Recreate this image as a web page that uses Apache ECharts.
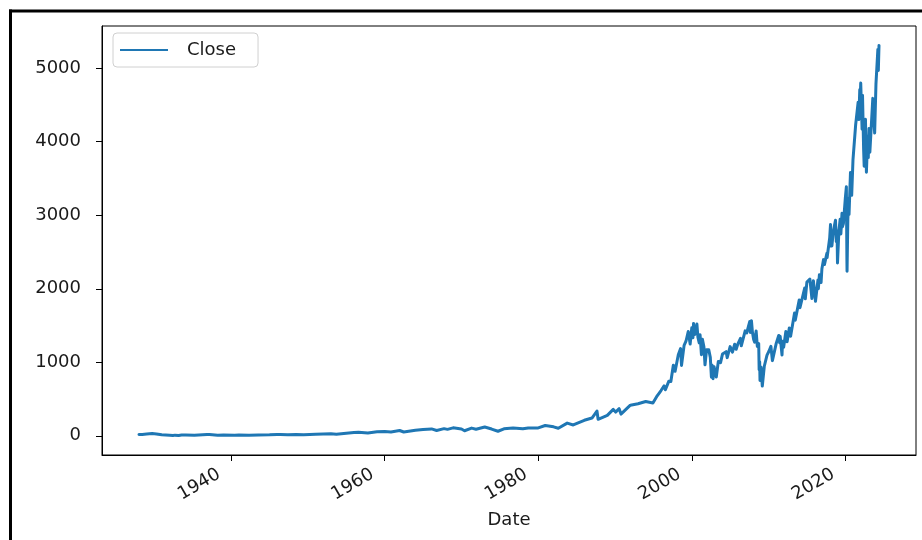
<!DOCTYPE html>
<html>
<head>
<meta charset="utf-8">
<script src="https://cdn.jsdelivr.net/npm/echarts@6/dist/echarts.min.js"></script>
<style>html,body{margin:0;padding:0;background:#fff;}#c{width:922px;height:540px;}</style>
</head>
<body>
<div id="c"></div>
<script>
const seriesName = "Close";
const xTickYears = [1940, 1960, 1980, 2000, 2020];
const yTickValues = [0, 1000, 2000, 3000, 4000, 5000];
const dates = [
"1927-12-30","1928-06-01","1928-12-31","1929-09-16","1929-11-13","1930-04-10","1930-12-16","1931-02-24","1931-12-31","1932-06-01",
"1932-09-07","1933-02-27","1933-07-18","1934-02-06","1935-03-14","1936-11-09","1937-03-06","1938-03-31","1939-01-03","1940-06-10",
"1941-01-01","1942-04-28","1943-07-14","1944-12-31","1945-12-31","1946-05-29","1947-05-19","1948-06-15","1949-06-13","1950-12-29",
"1951-12-31","1952-12-31","1953-09-14","1954-12-31","1955-12-30","1956-08-02","1957-10-22","1958-12-31","1959-12-31","1960-10-25",
"1961-12-12","1962-06-26","1963-12-31","1964-12-31","1966-02-09","1966-10-07","1967-09-25","1968-03-05","1968-11-29","1969-12-31",
"1970-05-26","1971-04-28","1971-11-23","1973-01-11","1973-12-05","1974-10-03","1975-07-15","1976-09-21","1977-12-30","1978-03-06",
"1978-09-12","1979-12-31","1980-03-27","1980-11-28","1981-12-31","1982-08-12","1983-10-10","1984-07-24","1985-12-31","1986-12-31",
"1987-08-25","1987-10-19","1988-12-30","1989-10-09","1990-01-30","1990-07-16","1990-10-11","1991-12-31","1992-12-31","1993-12-31",
"1994-12-09","1995-06-30","1995-12-29","1996-05-24","1996-07-24","1996-12-31","1997-04-11","1997-08-06","1997-10-27","1997-12-31",
"1998-03-31","1998-07-17","1998-08-31","1998-10-08","1998-12-31","1999-03-31","1999-07-16","1999-10-15","1999-12-31","2000-02-25",
"2000-03-24","2000-05-26","2000-09-01","2000-10-18","2000-12-20","2001-01-30","2001-04-04","2001-05-21","2001-07-31","2001-09-21",
"2001-12-05","2002-01-04","2002-03-19","2002-05-31","2002-07-23","2002-08-22","2002-10-09","2002-11-27","2003-03-11","2003-06-17",
"2003-09-30","2003-12-31","2004-03-24","2004-06-23","2004-08-12","2004-12-30","2005-04-20","2005-08-02","2005-10-13","2005-12-30",
"2006-05-05","2006-06-13","2006-12-15","2007-02-27","2007-07-19","2007-08-15","2007-10-09","2007-11-26","2008-01-22","2008-03-10",
"2008-05-19","2008-07-15","2008-09-19","2008-10-10","2008-11-04","2008-11-20","2009-01-06","2009-03-09","2009-06-12","2009-10-19",
"2010-01-19","2010-04-23","2010-07-02","2010-12-31","2011-04-29","2011-06-15","2011-07-07","2011-10-03","2011-10-27","2011-12-19",
"2012-04-02","2012-06-01","2012-09-14","2012-11-15","2013-05-21","2013-06-24","2013-12-31","2014-02-03","2014-09-18","2014-10-15",
"2014-12-29","2015-05-21","2015-08-25","2015-11-03","2016-02-11","2016-06-08","2016-06-27","2016-08-15","2016-11-04","2016-12-13",
"2017-03-01","2017-04-13","2017-08-07","2017-08-18","2017-12-18","2018-01-26","2018-02-08","2018-03-09","2018-04-02","2018-06-12",
"2018-09-20","2018-10-29","2018-12-03","2018-12-24","2019-02-28","2019-04-30","2019-06-03","2019-07-26","2019-08-14","2019-10-02",
"2019-12-31","2020-02-19","2020-03-16","2020-03-23","2020-04-29","2020-06-08","2020-06-26","2020-09-02","2020-10-30","2020-12-31",
"2021-03-04","2021-05-07","2021-09-02","2021-10-04","2021-11-18","2021-12-01","2022-01-03","2022-03-08","2022-03-29","2022-05-20",
"2022-06-16","2022-08-16","2022-09-30","2022-10-12","2022-12-01","2022-12-28","2023-02-02","2023-03-13","2023-07-31","2023-10-27",
"2023-12-28","2024-03-28","2024-04-19","2024-05-21"
];
const closes = [
17.66,19.5,24.35,31.86,17.66,25.92,14.44,18.17,8.12,4.40,
9.31,5.53,12.20,11.82,8.06,17.69,18.68,8.50,12.50,8.99,
10.55,7.47,12.64,13.28,17.36,19.25,13.71,17.06,13.55,20.41,
23.77,26.57,22.71,35.98,45.48,49.74,38.98,55.21,59.89,52.30,
72.64,52.32,75.02,84.75,94.06,73.20,97.59,87.72,108.37,92.06,
69.29,104.77,90.16,120.24,92.16,62.28,95.61,107.83,95.10,86.90,
106.99,107.94,98.22,140.52,122.55,102.42,172.65,147.82,211.28,242.17,
336.77,224.84,277.72,359.80,322.98,368.95,295.46,417.09,435.71,466.45,
445.45,544.75,615.93,678.51,626.65,740.74,737.65,960.32,876.99,970.43,
1101.75,1186.75,957.28,959.44,1229.23,1286.37,1418.78,1247.41,1469.25,1333.36,
1527.46,1378.02,1520.77,1342.13,1264.74,1373.73,1103.25,1312.83,1211.23,965.80,
1170.35,1172.51,1170.29,1067.14,797.70,962.70,776.76,938.87,800.73,1011.66,
995.97,1111.92,1091.33,1144.06,1063.23,1213.55,1137.50,1245.04,1176.84,1248.29,
1325.76,1223.69,1427.09,1399.04,1553.08,1406.70,1565.15,1407.22,1310.50,1273.37,
1426.63,1214.91,1255.08,899.22,1005.75,752.44,934.70,676.53,946.21,1097.91,
1150.23,1217.28,1022.58,1257.64,1363.61,1265.42,1353.22,1099.23,1284.59,1205.35,
1419.04,1278.04,1465.77,1353.33,1669.16,1573.09,1848.36,1741.89,2011.36,1862.49,
2090.57,2130.82,1867.61,2109.79,1829.08,2119.12,2000.54,2190.15,2085.18,2271.72,
2395.96,2328.95,2480.91,2425.55,2690.16,2872.87,2581.00,2786.57,2581.88,2786.85,
2930.75,2641.25,2790.37,2351.10,2784.49,2945.83,2744.45,3025.86,2840.60,2887.61,
3230.78,3386.15,2386.13,2237.40,2939.51,3232.39,3009.05,3580.84,3269.96,3756.07,
3768.47,4232.60,4536.95,4300.46,4704.54,4513.04,4796.56,4170.70,4631.60,3901.36,
3666.77,4305.20,3585.62,3577.03,4076.57,3783.22,4179.76,3855.76,4588.96,4117.37,
4783.35,5254.35,4967.23,5308.00
];

function toYear(s) {
  const p = s.split('-').map(Number);
  const t = Date.UTC(p[0], p[1] - 1, p[2]);
  const t0 = Date.UTC(p[0], 0, 1), t1 = Date.UTC(p[0] + 1, 0, 1);
  return p[0] + (t - t0) / (t1 - t0);
}
const pts = dates.map((d, i) => [toYear(d), closes[i]]);
const xs = pts.map(p => p[0]);
const xMin0 = Math.min(...xs), xMax0 = Math.max(...xs);
const yMin0 = Math.min(...closes), yMax0 = Math.max(...closes);
const xPad = (xMax0 - xMin0) * 0.05, yPad = (yMax0 - yMin0) * 0.05;

const FONT = 'DejaVu Sans';
const TXT = '#1a1a1a';
const chart = echarts.init(document.getElementById('c'), null, {renderer: 'canvas'});
chart.setOption({
  animation: false,
  backgroundColor: '#fff',
  grid: {left: 102, top: 26, right: 6, bottom: 85, show: true, borderColor: '#000', borderWidth: 1},
  legend: {
    left: 113, top: 33, icon: 'rect', itemWidth: 48, itemHeight: 2,
    padding: [8, 22, 8, 7], borderColor: '#d0d0d0', borderWidth: 1, borderRadius: 4,
    textStyle: {fontFamily: FONT, fontSize: 18, color: TXT, padding: [0, 0, 0, 14]},
    data: [seriesName]
  },
  xAxis: {
    type: 'value', min: xMin0 - xPad, max: xMax0 + xPad,
    name: 'Date', nameLocation: 'middle', nameGap: 56,
    nameTextStyle: {fontFamily: FONT, fontSize: 18, color: TXT},
    axisLine: {show: true, onZero: false, lineStyle: {color: '#000', width: 1}},
    axisTick: {show: true, customValues: xTickYears, length: 6, lineStyle: {color: '#000', width: 1}},
    axisLabel: {customValues: xTickYears, rotate: 30, margin: 11, padding: [0, 14, 0, 0],
      fontFamily: FONT, fontSize: 18, color: TXT, formatter: v => String(Math.round(v))},
    splitLine: {show: false}
  },
  yAxis: {
    type: 'value', min: yMin0 - yPad, max: yMax0 + yPad,
    axisLine: {show: true, onZero: false, lineStyle: {color: '#000', width: 1}},
    axisTick: {show: true, customValues: yTickValues, length: 6, lineStyle: {color: '#000', width: 1}},
    axisLabel: {customValues: yTickValues, margin: 21, fontFamily: FONT, fontSize: 18, color: TXT,
      formatter: v => String(Math.round(v))},
    splitLine: {show: false}
  },
  series: [{
    type: 'line', name: seriesName, data: pts, symbol: 'none', showSymbol: false,
    lineStyle: {color: '#1f77b4', width: 3, join: 'round', cap: 'round'}, itemStyle: {color: '#1f77b4'}
  }],
  graphic: [
    {type: 'line', shape: {x1: 10.5, y1: 9.5, x2: 10.5, y2: 540}, style: {stroke: '#000', lineWidth: 3}},
    {type: 'line', shape: {x1: 9, y1: 11, x2: 922, y2: 11}, style: {stroke: '#000', lineWidth: 3}}
  ]
});
</script>
</body>
</html>
